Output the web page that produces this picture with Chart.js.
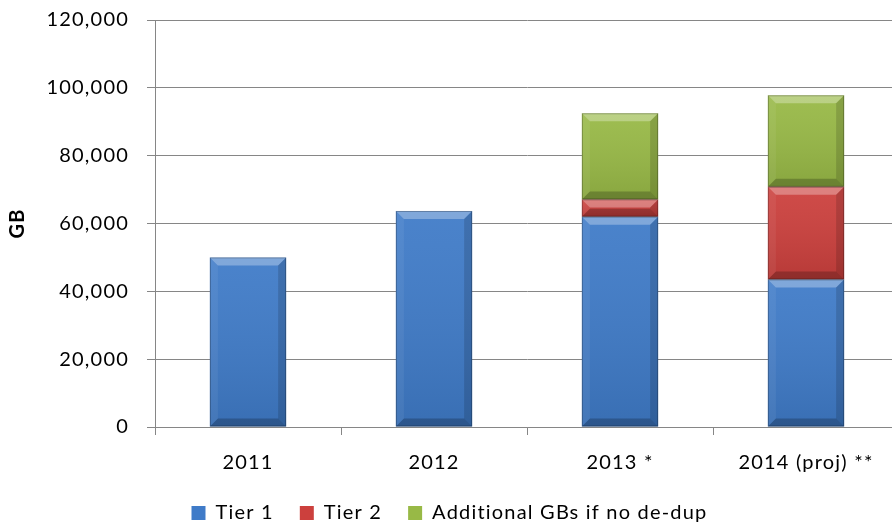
<!DOCTYPE html>
<html>
<head>
<meta charset="utf-8">
<title>Storage GB by year</title>
<script src="https://cdn.jsdelivr.net/npm/chart.js@4.4.0/dist/chart.umd.min.js"></script>
<style>
  html, body { margin: 0; padding: 0; background: #fff; overflow: hidden; }
  #wrap { width: 905px; height: 534px; }
</style>
</head>
<body>
<div id="wrap"><canvas id="gbChart"></canvas></div>
<script>
// data
const years = ['2011', '2012', '2013 *', '2014 (proj) **'];
const tier1 = [50000, 63700, 62000, 43500];
const tier2 = [0, 0, 5100, 27300];
const extraNoDedup = [0, 0, 25400, 27000];
const yTicks = [0, 20000, 40000, 60000, 80000, 100000, 120000];

const gridGray = '#868686';
const font = { family: 'Lato, "Open Sans", sans-serif', size: 20 };

// the original text is a bit wider than Lato, so space the letters a little
const spacing = {
  id: 'spacing',
  beforeUpdate(chart) { chart.ctx.letterSpacing = '1.2px'; },
  beforeDraw(chart) { chart.ctx.letterSpacing = '1.2px'; }
};

// Excel-ish bevel on every bar: light top edge, dark bottom edge
const bevel = {
  id: 'bevel',
  afterDatasetsDraw(chart) {
    const ctx = chart.ctx;
    chart.data.datasets.forEach((ds, i) => {
      const meta = chart.getDatasetMeta(i);
      meta.data.forEach(bar => {
        const top = Math.min(bar.y, bar.base), bottom = Math.max(bar.y, bar.base);
        const h = bottom - top;
        if (h < 1) return;
        const l = bar.x - bar.width / 2, r = bar.x + bar.width / 2;
        const b = Math.min(8, h / 2);
        ctx.save();
        const g = ctx.createLinearGradient(0, top, 0, bottom);
        g.addColorStop(0, 'rgba(255,255,255,0.06)');
        g.addColorStop(1, 'rgba(0,0,0,0.10)');
        ctx.fillStyle = g;
        ctx.fillRect(l, top, r - l, h);
        const poly = (pts, color) => {
          ctx.beginPath();
          ctx.moveTo(pts[0][0], pts[0][1]);
          pts.slice(1).forEach(p => ctx.lineTo(p[0], p[1]));
          ctx.closePath();
          ctx.fillStyle = color;
          ctx.fill();
        };
        poly([[l, top], [r, top], [r - b, top + b], [l + b, top + b]], 'rgba(255,255,255,0.3)');
        poly([[l, bottom], [r, bottom], [r - b, bottom - b], [l + b, bottom - b]], 'rgba(0,0,0,0.22)');
        poly([[l, top], [l + b, top + b], [l + b, bottom - b], [l, bottom]], 'rgba(255,255,255,0.06)');
        poly([[r, top], [r - b, top + b], [r - b, bottom - b], [r, bottom]], 'rgba(0,0,0,0.14)');
        ctx.strokeStyle = 'rgba(0,0,0,0.25)';
        ctx.lineWidth = 1;
        ctx.strokeRect(l + 0.5, top + 0.5, r - l - 1, h - 1);
        ctx.restore();
      });
    });
  }
};

new Chart(document.getElementById('gbChart'), {
  type: 'bar',
  data: {
    labels: years,
    datasets: [
      { label: 'Tier 1', data: tier1, backgroundColor: '#3f7bc8' },
      { label: 'Tier 2', data: tier2, backgroundColor: '#cc403d' },
      { label: 'Additional GBs if no de-dup', data: extraNoDedup, backgroundColor: '#98b946' }
    ]
  },
  options: {
    responsive: true,
    maintainAspectRatio: false,
    animation: false,
    layout: { padding: { top: 20, right: 6, bottom: 1, left: 0 } },
    datasets: { bar: { barPercentage: 0.41, categoryPercentage: 1.0, borderWidth: 0 } },
    plugins: {
      tooltip: { enabled: false },
      legend: {
        position: 'bottom',
        labels: { font: font, color: '#000', boxWidth: 14, boxHeight: 14, padding: 26 }
      }
    },
    scales: {
      x: {
        stacked: true,
        grid: { offset: true, drawOnChartArea: false, drawTicks: true, tickLength: 8, color: gridGray },
        border: { display: true, color: gridGray },
        ticks: { font: font, color: '#000', padding: 16, maxRotation: 0 },
        afterFit: s => { s.height = 50; }
      },
      y: {
        stacked: true,
        min: 0,
        max: 120000,
        afterBuildTicks: s => { s.ticks = yTicks.map(v => ({ value: v })); },
        grid: { color: gridGray, tickLength: 8 },
        border: { display: true, color: gridGray },
        ticks: { font: font, color: '#000', padding: 18, callback: v => v.toLocaleString('en-US') },
        title: { display: true, text: 'GB', color: '#000', font: { family: font.family, size: 20, weight: 'bold' }, padding: { top: 6, bottom: 0 } },
        afterFit: s => { s.width = 155; s.paddingTop = 0; s.paddingBottom = 0; }
      }
    }
  },
  plugins: [spacing, bevel]
});
</script>
</body>
</html>
